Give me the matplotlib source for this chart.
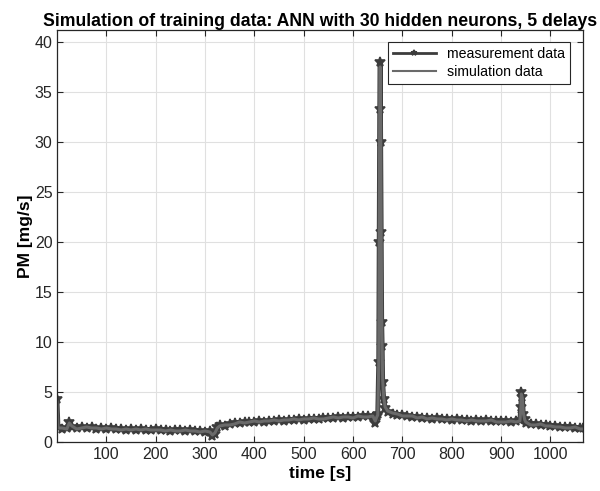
import matplotlib
matplotlib.use('Agg')
import matplotlib.pyplot as plt

# Data
t = [0, 2, 10, 20, 25, 30, 40, 50, 60, 70, 80, 90, 100, 110, 120, 130, 140, 150,
     160, 170, 180, 190, 200, 210, 220, 230, 240, 250, 260, 270, 280, 290, 300,
     310, 315, 320, 325, 330, 340, 350, 360, 370, 380, 390, 400, 410, 420, 430,
     440, 450, 460, 470, 480, 490, 500, 510, 520, 530, 540, 550, 560, 570, 580,
     590, 600, 610, 620, 630, 640, 645, 648, 650, 652, 653, 654, 655, 656, 657,
     658, 659, 660, 662, 665, 670, 680, 690, 700, 710, 720, 730, 740, 750, 760,
     770, 780, 790, 800, 810, 820, 830, 840, 850, 860, 870, 880, 890, 900, 910,
     920, 930, 938, 940, 941, 943, 945, 948, 950, 960, 970, 980, 990, 1000, 1010,
     1020, 1030, 1040, 1050, 1060, 1065]
pm_meas = [4.3, 1.5, 1.3, 1.4, 2.0, 1.5, 1.4, 1.5, 1.4, 1.5, 1.3, 1.4, 1.3, 1.4,
           1.3, 1.3, 1.2, 1.3, 1.2, 1.3, 1.2, 1.2, 1.3, 1.2, 1.2, 1.1, 1.2, 1.2,
           1.1, 1.2, 1.1, 1.1, 1.0, 1.1, 0.6, 0.8, 1.5, 1.7, 1.6, 1.8, 1.9, 1.9,
           2.0, 2.0, 2.0, 2.1, 2.0, 2.1, 2.1, 2.2, 2.1, 2.2, 2.2, 2.3, 2.2, 2.3,
           2.3, 2.3, 2.4, 2.4, 2.4, 2.5, 2.4, 2.5, 2.5, 2.5, 2.6, 2.6, 2.5, 1.9,
           2.6, 2.8, 8.0, 20.0, 33.3, 38.0, 30.0, 21.0, 12.0, 9.6, 6.0, 4.3, 3.4,
           3.0, 2.8, 2.7, 2.7, 2.6, 2.5, 2.5, 2.4, 2.4, 2.3, 2.4, 2.3, 2.3, 2.2,
           2.3, 2.2, 2.2, 2.1, 2.2, 2.1, 2.2, 2.1, 2.1, 2.1, 2.1, 2.0, 2.1, 2.2,
           3.5, 5.0, 4.5, 2.8, 2.3, 1.9, 1.8, 1.8, 1.7, 1.7, 1.6, 1.6, 1.5, 1.5,
           1.5, 1.4, 1.4, 1.4]
pm_sim = [4.0, 1.4, 1.4, 1.3, 1.9, 1.6, 1.3, 1.4, 1.5, 1.4, 1.4, 1.3, 1.4, 1.3,
          1.3, 1.2, 1.3, 1.2, 1.3, 1.2, 1.3, 1.2, 1.2, 1.2, 1.1, 1.2, 1.1, 1.1,
          1.2, 1.1, 1.1, 1.0, 1.1, 1.0, 0.7, 0.9, 1.4, 1.6, 1.7, 1.7, 1.8, 2.0,
          1.9, 2.0, 2.1, 2.0, 2.1, 2.1, 2.2, 2.1, 2.2, 2.2, 2.3, 2.2, 2.3, 2.3,
          2.4, 2.3, 2.3, 2.4, 2.5, 2.4, 2.5, 2.5, 2.4, 2.6, 2.5, 2.5, 2.6, 2.1,
          2.5, 2.7, 7.5, 19.5, 33.0, 37.5, 31.0, 20.5, 12.5, 9.0, 6.2, 4.5, 3.5,
          3.1, 2.9, 2.8, 2.6, 2.6, 2.6, 2.4, 2.5, 2.3, 2.4, 2.3, 2.3, 2.2, 2.3,
          2.2, 2.2, 2.1, 2.2, 2.1, 2.1, 2.1, 2.2, 2.0, 2.0, 2.0, 2.1, 2.0, 2.1,
          3.3, 4.8, 4.4, 2.9, 2.2, 2.0, 1.7, 1.7, 1.8, 1.6, 1.6, 1.5, 1.5, 1.4,
          1.4, 1.5, 1.3, 1.3]

plt.rcParams['font.family'] = ['Liberation Sans', 'DejaVu Sans']

fig = plt.figure(figsize=(6, 4.91), dpi=100)
ax = fig.add_axes([0.0958, 0.0998, 0.8759, 0.8392])

ax.plot(t, pm_meas, '-*', color='#3c3c3c', lw=3.5, ms=7, mew=1.2,
        label='measurement data')
ax.plot(t, pm_sim, '-', color='#6a6a6a', lw=2.2, label='simulation data')

ax.set_xlim(1, 1066)
ax.set_ylim(0, 41.2)
ax.set_xticks(range(100, 1001, 100))
ax.set_yticks(range(0, 41, 5))
ax.tick_params(direction='in', labelsize=11.5, length=4, top=True, right=True,
               colors='#262626')
ax.grid(True, color='#e0e0e0', lw=0.8)
for s in ax.spines.values():
    s.set_color('#262626')
    s.set_linewidth(0.9)

ax.set_xlabel('time [s]', fontsize=12.5, fontweight='bold', labelpad=3)
ax.set_ylabel('PM [mg/s]', fontsize=12.5, fontweight='bold', labelpad=1)
ax.set_title('Simulation of training data: ANN with 30 hidden neurons, 5 delays',
             fontsize=12.7, fontweight='bold', pad=3)

leg = ax.legend(loc='upper right', bbox_to_anchor=(0.975, 0.97), fontsize=10.2,
                fancybox=False, framealpha=1, edgecolor='#262626',
                borderpad=0.35, labelspacing=0.25, handlelength=3,
                borderaxespad=0, markerscale=0.6)
leg.get_frame().set_linewidth(0.8)
leg.get_lines()[0].set_linewidth(2.0)
leg.get_lines()[1].set_linewidth(1.5)

plt.savefig('out.png', dpi=100)
